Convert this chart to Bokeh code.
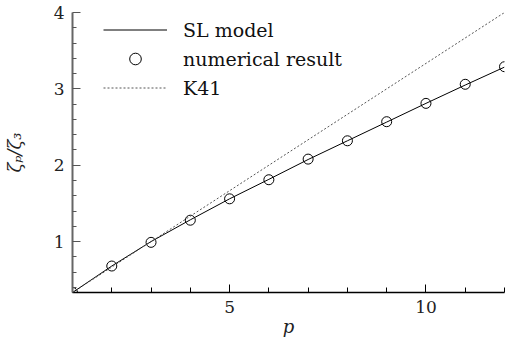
from bokeh.plotting import figure
from bokeh.models import Range1d, FixedTicker, Legend, LegendItem
from bokeh.embed import file_html
from bokeh.resources import INLINE

# data
p_vals = [1, 2, 3, 4, 5, 6, 7, 8, 9, 10, 11, 12]
sl_model = [0.333, 0.68, 1.0, 1.285, 1.56, 1.815, 2.075, 2.32, 2.565, 2.81, 3.05, 3.285]
numerical = [0.333, 0.68, 0.99, 1.28, 1.56, 1.81, 2.08, 2.32, 2.57, 2.81, 3.06, 3.29]
k41_p = [1, 12]
k41 = [0.333, 4.0]
x_ticks = [5, 10]
x_minor = [1, 2, 3, 4, 6, 7, 8, 9, 11, 12]
y_ticks = [1, 2, 3, 4]
y_minor = [0.4, 0.6, 0.8, 1.2, 1.4, 1.6, 1.8, 2.2, 2.4, 2.6, 2.8, 3.2, 3.4, 3.6, 3.8]

FONT = "DejaVu Serif"

p = figure(width=507, height=341, output_backend="svg", toolbar_location=None,
           x_range=Range1d(1, 12), y_range=Range1d(1 / 3, 4),
           min_border_left=69, min_border_right=3, min_border_top=12, min_border_bottom=49)
p.outline_line_color = None
p.xgrid.visible = False
p.ygrid.visible = False
p.background_fill_color = "white"

r_sl = p.line(p_vals, sl_model, line_color="black", line_width=1)
r_num = p.scatter(p_vals, numerical, marker="circle", size=10, fill_color=None,
                  line_color="black", line_width=1)
r_k41 = p.line(k41_p, k41, line_color="#555555", line_width=1, line_dash="2 2")

xa = p.xaxis[0]
xa.ticker = FixedTicker(ticks=x_ticks, minor_ticks=x_minor)
xa.axis_line_color = "black"
xa.axis_line_width = 1.5
xa.major_tick_in = 8
xa.major_tick_out = 0
xa.minor_tick_in = 5
xa.minor_tick_out = 0
xa.major_tick_line_color = "black"
xa.minor_tick_line_color = "black"
xa.major_label_text_font = FONT
xa.major_label_text_font_size = "17px"
xa.major_label_text_color = "#222222"
xa.major_label_standoff = 8
xa.axis_label = "p"
xa.axis_label_text_font = FONT
xa.axis_label_text_font_style = "italic"
xa.axis_label_text_font_size = "18px"
xa.axis_label_text_color = "#222222"
xa.axis_label_standoff = 0

ya = p.yaxis[0]
ya.ticker = FixedTicker(ticks=y_ticks, minor_ticks=y_minor)
ya.axis_line_color = "#666666"
ya.axis_line_width = 2
ya.major_tick_in = 8
ya.major_tick_out = 0
ya.minor_tick_in = 4
ya.minor_tick_out = 0
ya.major_tick_line_color = "#555555"
ya.minor_tick_line_color = "#555555"
ya.major_label_text_font = FONT
ya.major_label_text_font_size = "17px"
ya.major_label_text_color = "#222222"
ya.major_label_standoff = 8
ya.axis_label = "ζₚ/ζ₃"
ya.axis_label_text_font = FONT
ya.axis_label_text_font_style = "italic"
ya.axis_label_text_font_size = "18px"
ya.axis_label_text_color = "#222222"
ya.axis_label_standoff = 26

legend = Legend(items=[
    LegendItem(label="SL model", renderers=[r_sl]),
    LegendItem(label="numerical result", renderers=[r_num]),
    LegendItem(label="K41", renderers=[r_k41]),
], location=(31, 190), orientation="vertical")
legend.border_line_color = None
legend.background_fill_alpha = 0
legend.padding = 0
legend.margin = 0
legend.spacing = 0
legend.glyph_width = 64
legend.glyph_height = 29
legend.label_height = 29
legend.label_standoff = 16
legend.label_text_font = FONT
legend.label_text_font_size = "19px"
legend.label_text_color = "#111111"
p.add_layout(legend, "center")

open("out.html", "w").write(file_html(p, INLINE))
